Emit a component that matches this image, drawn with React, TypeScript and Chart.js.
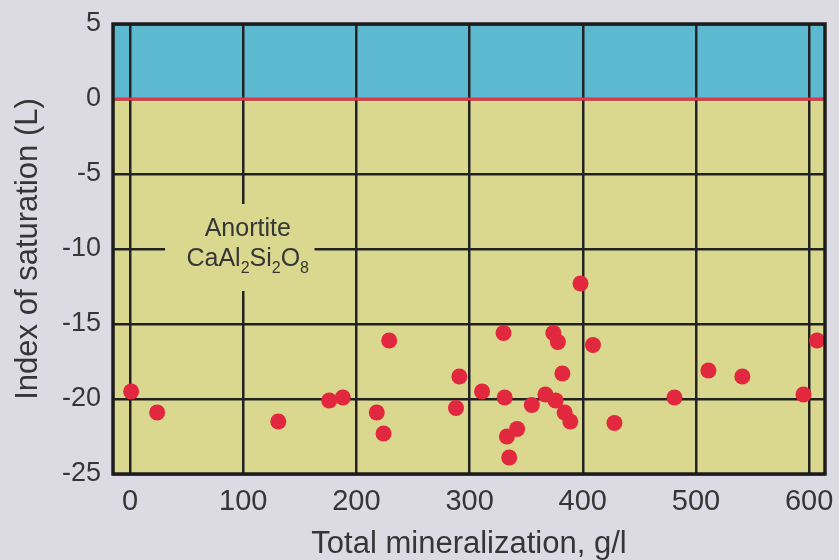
import React, { useEffect, useRef } from "react";
import { Chart, registerables } from "chart.js";

Chart.register(...registerables);

const xValues = [1, 24, 131, 176, 188, 218, 224, 229, 288, 291, 311, 330, 331, 333, 335, 342, 355, 367, 374, 376, 378, 382, 384, 389, 398, 409, 428, 481, 511, 541, 595, 607];
const yValues = [-19.5, -20.9, -21.5, -20.1, -19.9, -20.9, -22.3, -16.1, -20.6, -18.5, -19.5, -15.6, -19.9, -22.5, -23.9, -22.0, -20.4, -19.7, -15.6, -20.1, -16.2, -18.3, -20.9, -21.5, -12.3, -16.4, -21.6, -19.9, -18.1, -18.5, -19.7, -16.1];
const xTicks = [0, 100, 200, 300, 400, 500, 600];
const xRange = [-15, 614];
const yRange = [-25, 5];
const labelBox = { x0: 31, x1: 163, y0: -7.0, y1: -12.8 };
const labelCenterX = 104;
const labelLine1 = "Anortite";
const labelLine2 = [
  { t: "CaAl", sub: false },
  { t: "2", sub: true },
  { t: "Si", sub: false },
  { t: "2", sub: true },
  { t: "O", sub: false },
  { t: "8", sub: true },
];

const FONT = "'Liberation Sans', Arial, Helvetica, sans-serif";
const BLUE = "#5cb9d0";
const YELLOW = "#d9d88e";
const RED = "#e2283e";
const TEXT = "#363636";

const bgPlugin = {
  id: "bgPlugin",
  beforeDraw(chart: any) {
    const { ctx, chartArea: a, scales } = chart;
    const y0 = scales.y.getPixelForValue(0);
    ctx.save();
    ctx.fillStyle = BLUE;
    ctx.fillRect(a.left, a.top, a.right - a.left, y0 - a.top);
    ctx.fillStyle = YELLOW;
    ctx.fillRect(a.left, y0, a.right - a.left, a.bottom - y0);
    ctx.restore();
  },
  beforeDatasetsDraw(chart: any) {
    const { ctx, scales, chartArea: a } = chart;
    const yz = scales.y.getPixelForValue(0);
    ctx.save();
    ctx.strokeStyle = "#e8334c";
    ctx.lineWidth = 3;
    ctx.beginPath();
    ctx.moveTo(a.left, yz);
    ctx.lineTo(a.right, yz);
    ctx.stroke();

    const x0 = scales.x.getPixelForValue(labelBox.x0);
    const x1 = scales.x.getPixelForValue(labelBox.x1);
    const y0 = scales.y.getPixelForValue(labelBox.y0);
    const y1 = scales.y.getPixelForValue(labelBox.y1);
    ctx.fillStyle = YELLOW;
    ctx.fillRect(x0, y0, x1 - x0, y1 - y0);
    const cx = scales.x.getPixelForValue(labelCenterX);
    ctx.fillStyle = TEXT;
    ctx.font = `25px ${FONT}`;
    ctx.textAlign = "center";
    ctx.textBaseline = "alphabetic";
    ctx.fillText(labelLine1, cx, y0 + 32);
    const big = `25px ${FONT}`;
    const small = `16px ${FONT}`;
    let total = 0;
    for (const p of labelLine2) {
      ctx.font = p.sub ? small : big;
      total += ctx.measureText(p.t).width;
    }
    let x = cx - total / 2;
    ctx.textAlign = "left";
    const base = y0 + 62;
    for (const p of labelLine2) {
      ctx.font = p.sub ? small : big;
      ctx.fillText(p.t, x, p.sub ? base + 7 : base);
      x += ctx.measureText(p.t).width;
    }
    ctx.restore();
  },
  afterDatasetsDraw(chart: any) {
    const { ctx, chartArea: a } = chart;
    ctx.save();
    ctx.strokeStyle = "#1c1c1c";
    ctx.lineWidth = 3.5;
    ctx.strokeRect(a.left, a.top, a.right - a.left, a.bottom - a.top);
    ctx.restore();
  },
};

export default function App() {
  const ref = useRef<HTMLCanvasElement>(null);
  useEffect(() => {
    if (!ref.current) return;
    const data = xValues.map((x, i) => ({ x, y: yValues[i] }));
    const chart = new Chart(ref.current, {
      type: "scatter",
      data: {
        datasets: [
          {
            data,
            backgroundColor: RED,
            borderColor: RED,
            pointRadius: 8,
            borderWidth: 0,
          },
        ],
      },
      options: {
        animation: false,
        responsive: true,
        maintainAspectRatio: false,
        layout: { padding: { top: 24, right: 14, left: 13, bottom: 0 } },
        plugins: { legend: { display: false }, tooltip: { enabled: false } },
        scales: {
          x: {
            type: "linear",
            min: xRange[0],
            max: xRange[1],
            afterBuildTicks: (s: any) => {
              s.ticks = xTicks.map((v) => ({ value: v }));
            },
            afterFit: (s: any) => {
              s.paddingLeft = 0;
              s.paddingRight = 0;
            },
            grid: { color: "#222", lineWidth: 2.5, drawTicks: false },
            border: { display: false },
            ticks: {
              color: TEXT,
              font: { size: 29, family: FONT, lineHeight: 1 },
              padding: 13,
              maxRotation: 0,
            },
            title: {
              display: true,
              text: "Total mineralization, g/l",
              color: TEXT,
              font: { size: 31, family: FONT, lineHeight: 1 },
              padding: { top: 0, bottom: 0 },
            },
          },
          y: {
            type: "linear",
            min: yRange[0],
            max: yRange[1],
            afterFit: (s: any) => {
              s.paddingTop = 0;
              s.paddingBottom = 0;
            },
            ticks: {
              stepSize: 5,
              color: TEXT,
              font: { size: 27, family: FONT, lineHeight: 1 },
              padding: 12,
            },
            grid: { color: "#222", lineWidth: 2.5, drawTicks: false },
            border: { display: false },
            title: {
              display: true,
              text: "Index of saturation (L)",
              color: TEXT,
              font: { size: 31, family: FONT, lineHeight: 1 },
              padding: { top: 0, bottom: 6 },
            },
          },
        },
      },
      plugins: [bgPlugin],
    });
    return () => chart.destroy();
  }, []);
  return (
    <div
      style={{
        position: "fixed",
        left: 0,
        top: 0,
        width: 839,
        height: 560,
        background: "#dcdae3",
      }}
    >
      <canvas ref={ref} />
    </div>
  );
}
